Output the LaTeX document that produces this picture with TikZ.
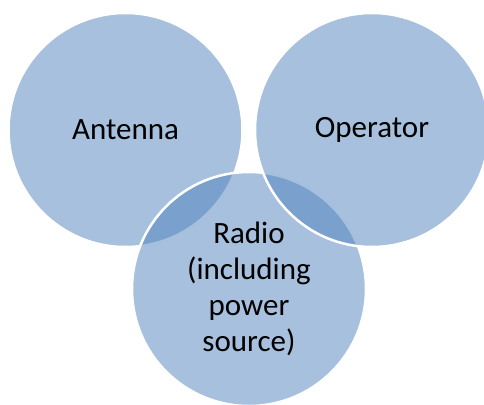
\documentclass[tikz,border=0pt]{standalone}
\usepackage{fontspec}
\setmainfont{Carlito}
\definecolor{venn}{HTML}{4F81BD}

\begin{document}
\begin{tikzpicture}[x=1pt,y=-1pt,
    set/.style={circle,minimum size=234pt,inner sep=0pt,fill=venn,fill opacity=0.5,
      text opacity=1,draw=white,draw opacity=1,line width=2.5pt,align=center,
      font=\fontsize{31}{36}\selectfont}]
            \useasboundingbox (0,0) rectangle (484,404);
            \node[set] (antenna) at (125.5,130) {Antenna};
            \node[set] (radio) at (249,289) {Radio\\(including\\power\\source)};
            \node[set] (operator) at (372,130) {Operator};
        \end{tikzpicture}
\end{document}
